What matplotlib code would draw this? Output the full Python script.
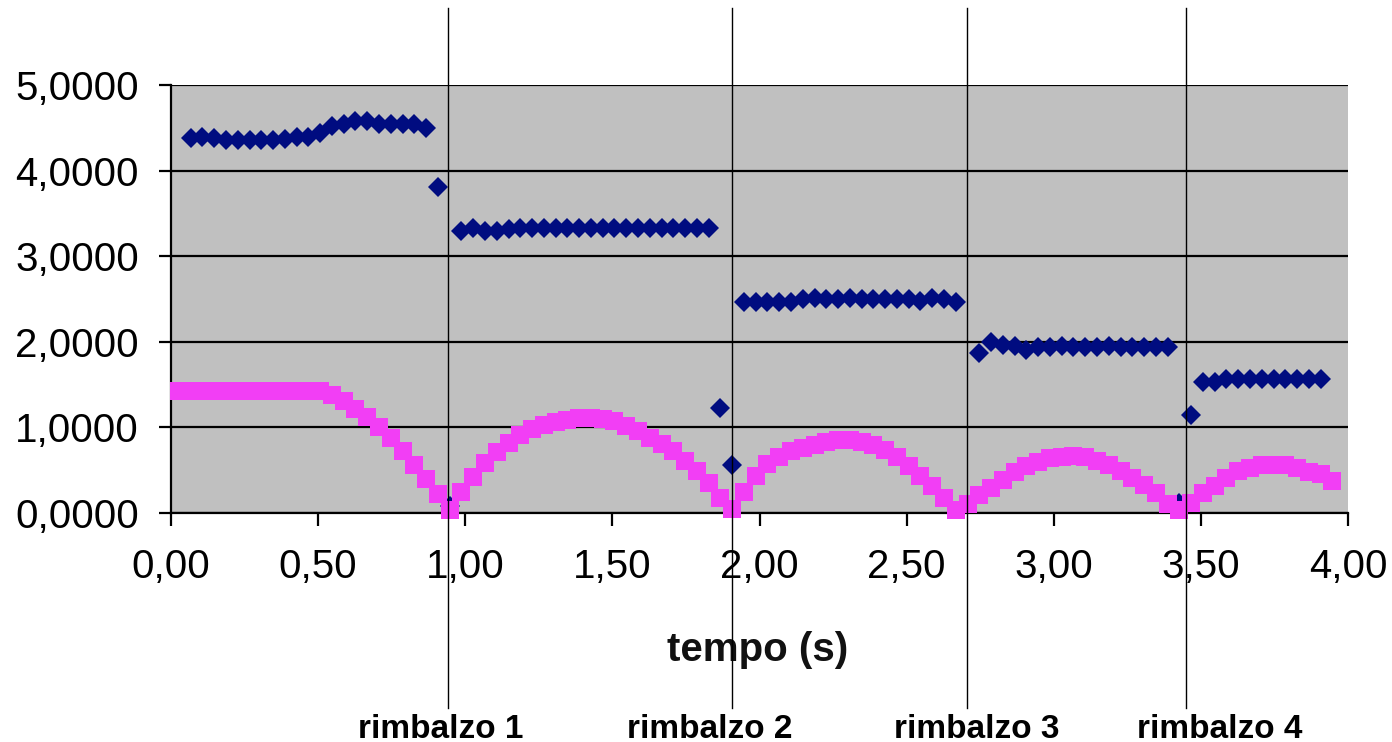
import numpy as np
import matplotlib
matplotlib.use("Agg")
import matplotlib.pyplot as plt
from matplotlib.ticker import FuncFormatter
from matplotlib.lines import Line2D
from matplotlib.transforms import blended_transform_factory

plt.rcParams['font.family'] = ['Liberation Sans', 'DejaVu Sans']

# time samples (s)
tempo = [0.027, 0.067, 0.107, 0.147, 0.187, 0.227, 0.267, 0.307, 0.347, 0.387,
         0.427, 0.467, 0.507, 0.547, 0.587, 0.627, 0.667, 0.707, 0.747, 0.787,
         0.827, 0.867, 0.907, 0.947, 0.987, 1.027, 1.067, 1.107, 1.147, 1.187,
         1.227, 1.267, 1.307, 1.347, 1.387, 1.427, 1.467, 1.507, 1.547, 1.587,
         1.627, 1.667, 1.707, 1.747, 1.787, 1.827, 1.867, 1.907, 1.947, 1.987,
         2.027, 2.067, 2.107, 2.147, 2.187, 2.227, 2.267, 2.307, 2.347, 2.387,
         2.427, 2.467, 2.507, 2.547, 2.587, 2.627, 2.667, 2.707, 2.747, 2.787,
         2.827, 2.867, 2.907, 2.947, 2.987, 3.027, 3.067, 3.107, 3.147, 3.187,
         3.227, 3.267, 3.307, 3.347, 3.387, 3.427, 3.467, 3.507, 3.547, 3.587,
         3.627, 3.667, 3.707, 3.747, 3.787, 3.827, 3.867, 3.907, 3.947]

# blue series (nan = no point)
nan = float('nan')
serie_blu = [nan, 4.38, 4.39, 4.38, 4.36, 4.36, 4.36, 4.36, 4.36, 4.37,
             4.39, 4.39, 4.44, 4.52, 4.54, 4.58, 4.58, 4.55, 4.55, 4.55,
             4.55, 4.50, 3.81, 0.08, 3.30, 3.33, 3.29, 3.30, 3.32, 3.33,
             3.33, 3.33, 3.33, 3.33, 3.33, 3.33, 3.33, 3.33, 3.33, 3.33,
             3.33, 3.33, 3.33, 3.33, 3.33, 3.33, 1.23, 0.56, 2.46, 2.47,
             2.46, 2.46, 2.47, 2.50, 2.51, 2.50, 2.50, 2.51, 2.50, 2.50,
             2.50, 2.50, 2.50, 2.48, 2.51, 2.50, 2.47, nan, 1.87, 2.00,
             1.96, 1.95, 1.90, 1.94, 1.94, 1.95, 1.94, 1.94, 1.94, 1.95,
             1.94, 1.94, 1.94, 1.94, 1.94, 0.12, 1.15, 1.53, 1.53, 1.56,
             1.57, 1.57, 1.56, 1.57, 1.57, 1.56, 1.56, 1.57, nan]

# pink series (height)
serie_rosa = [1.43, 1.43, 1.43, 1.43, 1.43, 1.43, 1.43, 1.43, 1.43, 1.43,
              1.43, 1.43, 1.42, 1.38, 1.31, 1.22, 1.12, 1.01, 0.88, 0.72,
              0.56, 0.40, 0.22, 0.03, 0.24, 0.42, 0.58, 0.71, 0.82, 0.91,
              0.98, 1.03, 1.06, 1.09, 1.11, 1.11, 1.10, 1.07, 1.02, 0.96,
              0.88, 0.81, 0.72, 0.61, 0.49, 0.35, 0.18, 0.05, 0.25, 0.43,
              0.57, 0.66, 0.72, 0.76, 0.79, 0.83, 0.85, 0.85, 0.83, 0.79,
              0.74, 0.65, 0.55, 0.43, 0.31, 0.17, 0.03, 0.11, 0.21, 0.29,
              0.39, 0.48, 0.55, 0.60, 0.64, 0.66, 0.67, 0.66, 0.61, 0.56,
              0.49, 0.41, 0.33, 0.23, 0.11, 0.03, 0.12, 0.23, 0.31, 0.41,
              0.49, 0.53, 0.56, 0.56, 0.56, 0.52, 0.48, 0.45, 0.37]

rimbalzi_t = [0.941, 1.905, 2.705, 3.450]
rimbalzi_lbl = ['rimbalzo 1', 'rimbalzo 2', 'rimbalzo 3', 'rimbalzo 4']
x_ticks = [0.0, 0.5, 1.0, 1.5, 2.0, 2.5, 3.0, 3.5, 4.0]
y_ticks = [0, 1, 2, 3, 4, 5]

W, H = 1392, 742
fig = plt.figure(figsize=(W / 100, H / 100), dpi=100)
fig.patch.set_facecolor('white')
ax = fig.add_axes([171 / W, 1 - 513 / H, 1177 / W, 428 / H])
ax.set_facecolor('#C0C0C0')

ax.plot(tempo, serie_blu, linestyle='none', marker='D', ms=10.5, mew=0,
        color='#000C80', zorder=3)
ax.plot(tempo, serie_rosa, linestyle='none', marker='s', ms=13, mew=0,
        color='#F23EF5', zorder=4, clip_on=False)

ax.set_xlim(0, 4)
ax.set_ylim(0, 5)
ax.set_xticks(x_ticks)
ax.set_yticks(y_ticks)
ax.xaxis.set_major_formatter(FuncFormatter(lambda v, p: f"{v:.2f}".replace('.', ',')))
ax.yaxis.set_major_formatter(FuncFormatter(lambda v, p: f"{v:.4f}".replace('.', ',')))
ax.yaxis.grid(True, color='black', linewidth=1.6)
ax.set_axisbelow(True)
for s in ['top', 'right']:
    ax.spines[s].set_visible(False)
ax.spines['left'].set_linewidth(1.6)
ax.spines['bottom'].set_linewidth(1.6)
ax.tick_params(axis='both', direction='out', length=9, width=1.6,
               labelsize=29, colors='black')
ax.tick_params(axis='y', pad=14)
ax.tick_params(axis='x', pad=16)

tr = blended_transform_factory(ax.transData, fig.transFigure)
for xt in rimbalzi_t:
    fig.add_artist(Line2D([xt, xt], [1 - 8 / H, 1 - 708 / H], transform=tr,
                          color='black', linewidth=1.0, zorder=10))

label_x = [441, 710, 977, 1220]
for lx, lbl in zip(label_x, rimbalzi_lbl):
    fig.text(lx / W, 1 - 729 / H, lbl, ha='center', va='center',
             fontsize=24, fontweight='bold', color='black')

fig.text(758 / W, 1 - 650 / H, 'tempo (s)', ha='center', va='center',
         fontsize=29, fontweight='bold', color='#111111')

fig.savefig('out.png', dpi=100)
